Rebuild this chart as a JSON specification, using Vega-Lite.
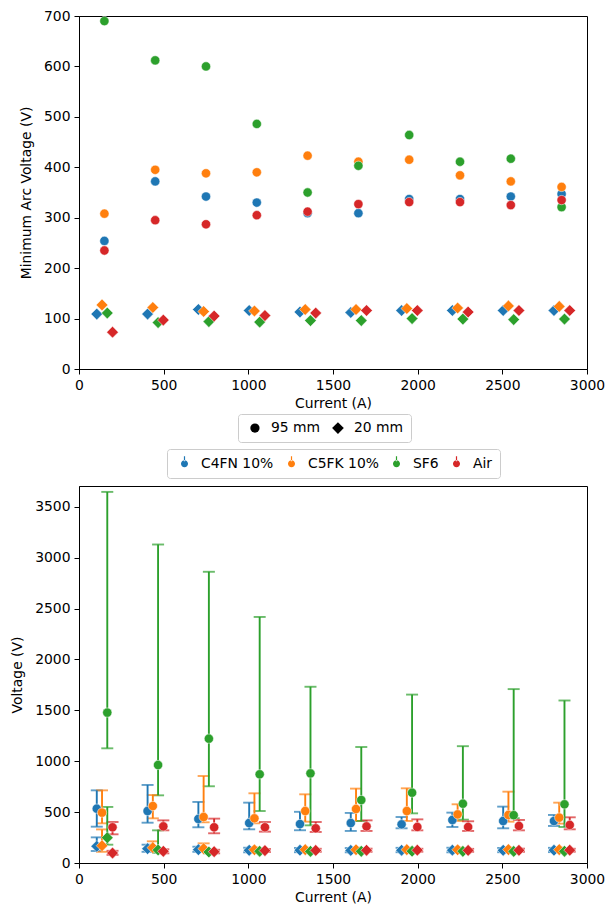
{
  "$schema": "https://vega.github.io/schema/vega-lite/v6.json",
  "padding": {"left": 10, "top": 8, "right": 0, "bottom": 0},
  "spacing": 6,
  "config": {
    "font": "DejaVu Sans",
    "view": {"stroke": "black", "strokeWidth": 1},
    "axis": {
      "grid": false, "domainColor": "black", "domainWidth": 1, "tickColor": "black", "tickWidth": 1, "tickSize": 5,
      "labelFontSize": 13.9, "labelColor": "black", "labelPadding": 4, "labelFlush": false, "labelOverlap": false, "format": "d",
      "titleFontSize": 13.9, "titleColor": "black", "titleFontWeight": "normal"
    },
    "axisX": {"titlePadding": 5},
    "axisY": {"titlePadding": 10},
    "legend": {
      "labelFont": "DejaVu Sans", "labelFontSize": 13.9, "labelColor": "black",
      "strokeColor": "#cccccc", "fillColor": "white", "cornerRadius": 3, "padding": 7,
      "symbolOffset": 3, "labelOffset": 9, "columnPadding": 7
    }
  },
  "resolve": {"legend": {"color": "independent", "shape": "independent", "size": "independent"}},
  "datasets": {
    "top": [
      {"g": "C4FN 10%", "d": "95 mm", "I": 150, "V": 254}, {"g": "C4FN 10%", "d": "95 mm", "I": 450, "V": 372}, {"g": "C4FN 10%", "d": "95 mm", "I": 750, "V": 342}, {"g": "C4FN 10%", "d": "95 mm", "I": 1050, "V": 330}, {"g": "C4FN 10%", "d": "95 mm", "I": 1350, "V": 309}, {"g": "C4FN 10%", "d": "95 mm", "I": 1650, "V": 309}, {"g": "C4FN 10%", "d": "95 mm", "I": 1950, "V": 337}, {"g": "C4FN 10%", "d": "95 mm", "I": 2250, "V": 337}, {"g": "C4FN 10%", "d": "95 mm", "I": 2550, "V": 342}, {"g": "C4FN 10%", "d": "95 mm", "I": 2850, "V": 347},
      {"g": "C5FK 10%", "d": "95 mm", "I": 150, "V": 308}, {"g": "C5FK 10%", "d": "95 mm", "I": 450, "V": 395}, {"g": "C5FK 10%", "d": "95 mm", "I": 750, "V": 388}, {"g": "C5FK 10%", "d": "95 mm", "I": 1050, "V": 390}, {"g": "C5FK 10%", "d": "95 mm", "I": 1350, "V": 423}, {"g": "C5FK 10%", "d": "95 mm", "I": 1650, "V": 411}, {"g": "C5FK 10%", "d": "95 mm", "I": 1950, "V": 415}, {"g": "C5FK 10%", "d": "95 mm", "I": 2250, "V": 384}, {"g": "C5FK 10%", "d": "95 mm", "I": 2550, "V": 372}, {"g": "C5FK 10%", "d": "95 mm", "I": 2850, "V": 361},
      {"g": "SF6", "d": "95 mm", "I": 150, "V": 690}, {"g": "SF6", "d": "95 mm", "I": 450, "V": 612}, {"g": "SF6", "d": "95 mm", "I": 750, "V": 600}, {"g": "SF6", "d": "95 mm", "I": 1050, "V": 486}, {"g": "SF6", "d": "95 mm", "I": 1350, "V": 350}, {"g": "SF6", "d": "95 mm", "I": 1650, "V": 403}, {"g": "SF6", "d": "95 mm", "I": 1950, "V": 464}, {"g": "SF6", "d": "95 mm", "I": 2250, "V": 411}, {"g": "SF6", "d": "95 mm", "I": 2550, "V": 417}, {"g": "SF6", "d": "95 mm", "I": 2850, "V": 321},
      {"g": "Air", "d": "95 mm", "I": 150, "V": 235}, {"g": "Air", "d": "95 mm", "I": 450, "V": 295}, {"g": "Air", "d": "95 mm", "I": 750, "V": 287}, {"g": "Air", "d": "95 mm", "I": 1050, "V": 305}, {"g": "Air", "d": "95 mm", "I": 1350, "V": 312}, {"g": "Air", "d": "95 mm", "I": 1650, "V": 327}, {"g": "Air", "d": "95 mm", "I": 1950, "V": 331}, {"g": "Air", "d": "95 mm", "I": 2250, "V": 331}, {"g": "Air", "d": "95 mm", "I": 2550, "V": 325}, {"g": "Air", "d": "95 mm", "I": 2850, "V": 335},
      {"g": "C4FN 10%", "d": "20 mm", "I": 105, "V": 109}, {"g": "C4FN 10%", "d": "20 mm", "I": 405, "V": 109}, {"g": "C4FN 10%", "d": "20 mm", "I": 705, "V": 118}, {"g": "C4FN 10%", "d": "20 mm", "I": 1005, "V": 116}, {"g": "C4FN 10%", "d": "20 mm", "I": 1305, "V": 113}, {"g": "C4FN 10%", "d": "20 mm", "I": 1605, "V": 112}, {"g": "C4FN 10%", "d": "20 mm", "I": 1905, "V": 116}, {"g": "C4FN 10%", "d": "20 mm", "I": 2205, "V": 116}, {"g": "C4FN 10%", "d": "20 mm", "I": 2505, "V": 116}, {"g": "C4FN 10%", "d": "20 mm", "I": 2805, "V": 116},
      {"g": "C5FK 10%", "d": "20 mm", "I": 136, "V": 127}, {"g": "C5FK 10%", "d": "20 mm", "I": 436, "V": 122}, {"g": "C5FK 10%", "d": "20 mm", "I": 736, "V": 114}, {"g": "C5FK 10%", "d": "20 mm", "I": 1036, "V": 115}, {"g": "C5FK 10%", "d": "20 mm", "I": 1336, "V": 118}, {"g": "C5FK 10%", "d": "20 mm", "I": 1636, "V": 118}, {"g": "C5FK 10%", "d": "20 mm", "I": 1936, "V": 120}, {"g": "C5FK 10%", "d": "20 mm", "I": 2236, "V": 121}, {"g": "C5FK 10%", "d": "20 mm", "I": 2536, "V": 125}, {"g": "C5FK 10%", "d": "20 mm", "I": 2836, "V": 124},
      {"g": "SF6", "d": "20 mm", "I": 167, "V": 111}, {"g": "SF6", "d": "20 mm", "I": 467, "V": 92}, {"g": "SF6", "d": "20 mm", "I": 767, "V": 94}, {"g": "SF6", "d": "20 mm", "I": 1067, "V": 93}, {"g": "SF6", "d": "20 mm", "I": 1367, "V": 96}, {"g": "SF6", "d": "20 mm", "I": 1667, "V": 96}, {"g": "SF6", "d": "20 mm", "I": 1967, "V": 100}, {"g": "SF6", "d": "20 mm", "I": 2267, "V": 99}, {"g": "SF6", "d": "20 mm", "I": 2567, "V": 98}, {"g": "SF6", "d": "20 mm", "I": 2867, "V": 99},
      {"g": "Air", "d": "20 mm", "I": 198, "V": 73}, {"g": "Air", "d": "20 mm", "I": 498, "V": 97}, {"g": "Air", "d": "20 mm", "I": 798, "V": 105}, {"g": "Air", "d": "20 mm", "I": 1098, "V": 106}, {"g": "Air", "d": "20 mm", "I": 1398, "V": 111}, {"g": "Air", "d": "20 mm", "I": 1698, "V": 116}, {"g": "Air", "d": "20 mm", "I": 1998, "V": 116}, {"g": "Air", "d": "20 mm", "I": 2298, "V": 113}, {"g": "Air", "d": "20 mm", "I": 2598, "V": 116}, {"g": "Air", "d": "20 mm", "I": 2898, "V": 116}
    ],
    "bot": [
      {"g": "C4FN 10%", "d": "95 mm", "I": 105, "V": 534, "lo": 357, "hi": 714}, {"g": "C4FN 10%", "d": "95 mm", "I": 405, "V": 511, "lo": 396, "hi": 767}, {"g": "C4FN 10%", "d": "95 mm", "I": 705, "V": 433, "lo": 351, "hi": 600}, {"g": "C4FN 10%", "d": "95 mm", "I": 1005, "V": 393, "lo": 331, "hi": 593}, {"g": "C4FN 10%", "d": "95 mm", "I": 1305, "V": 383, "lo": 322, "hi": 503}, {"g": "C4FN 10%", "d": "95 mm", "I": 1605, "V": 393, "lo": 315, "hi": 492}, {"g": "C4FN 10%", "d": "95 mm", "I": 1905, "V": 380, "lo": 341, "hi": 452}, {"g": "C4FN 10%", "d": "95 mm", "I": 2205, "V": 423, "lo": 354, "hi": 495}, {"g": "C4FN 10%", "d": "95 mm", "I": 2505, "V": 413, "lo": 341, "hi": 554}, {"g": "C4FN 10%", "d": "95 mm", "I": 2805, "V": 413, "lo": 364, "hi": 472},
      {"g": "C5FK 10%", "d": "95 mm", "I": 136, "V": 495, "lo": 390, "hi": 714}, {"g": "C5FK 10%", "d": "95 mm", "I": 436, "V": 560, "lo": 439, "hi": 668}, {"g": "C5FK 10%", "d": "95 mm", "I": 736, "V": 452, "lo": 400, "hi": 855}, {"g": "C5FK 10%", "d": "95 mm", "I": 1036, "V": 439, "lo": 390, "hi": 685}, {"g": "C5FK 10%", "d": "95 mm", "I": 1336, "V": 511, "lo": 406, "hi": 675}, {"g": "C5FK 10%", "d": "95 mm", "I": 1636, "V": 531, "lo": 413, "hi": 731}, {"g": "C5FK 10%", "d": "95 mm", "I": 1936, "V": 511, "lo": 413, "hi": 734}, {"g": "C5FK 10%", "d": "95 mm", "I": 2236, "V": 478, "lo": 413, "hi": 577}, {"g": "C5FK 10%", "d": "95 mm", "I": 2536, "V": 472, "lo": 406, "hi": 701}, {"g": "C5FK 10%", "d": "95 mm", "I": 2836, "V": 446, "lo": 387, "hi": 593},
      {"g": "SF6", "d": "95 mm", "I": 167, "V": 1478, "lo": 1127, "hi": 3647}, {"g": "SF6", "d": "95 mm", "I": 467, "V": 963, "lo": 665, "hi": 3130}, {"g": "SF6", "d": "95 mm", "I": 767, "V": 1222, "lo": 754, "hi": 2862}, {"g": "SF6", "d": "95 mm", "I": 1067, "V": 872, "lo": 511, "hi": 2418}, {"g": "SF6", "d": "95 mm", "I": 1367, "V": 881, "lo": 370, "hi": 1732}, {"g": "SF6", "d": "95 mm", "I": 1667, "V": 619, "lo": 413, "hi": 1140}, {"g": "SF6", "d": "95 mm", "I": 1967, "V": 691, "lo": 488, "hi": 1655}, {"g": "SF6", "d": "95 mm", "I": 2267, "V": 583, "lo": 426, "hi": 1148}, {"g": "SF6", "d": "95 mm", "I": 2567, "V": 470, "lo": 440, "hi": 1709}, {"g": "SF6", "d": "95 mm", "I": 2867, "V": 577, "lo": 354, "hi": 1597},
      {"g": "Air", "d": "95 mm", "I": 198, "V": 351, "lo": 282, "hi": 403}, {"g": "Air", "d": "95 mm", "I": 498, "V": 360, "lo": 321, "hi": 419}, {"g": "Air", "d": "95 mm", "I": 798, "V": 351, "lo": 292, "hi": 436}, {"g": "Air", "d": "95 mm", "I": 1098, "V": 351, "lo": 308, "hi": 403}, {"g": "Air", "d": "95 mm", "I": 1398, "V": 341, "lo": 305, "hi": 403}, {"g": "Air", "d": "95 mm", "I": 1698, "V": 360, "lo": 315, "hi": 419}, {"g": "Air", "d": "95 mm", "I": 1998, "V": 354, "lo": 321, "hi": 429}, {"g": "Air", "d": "95 mm", "I": 2298, "V": 354, "lo": 315, "hi": 410}, {"g": "Air", "d": "95 mm", "I": 2598, "V": 364, "lo": 321, "hi": 423}, {"g": "Air", "d": "95 mm", "I": 2898, "V": 374, "lo": 331, "hi": 449},
      {"g": "C4FN 10%", "d": "20 mm", "I": 105, "V": 164, "lo": 118, "hi": 252}, {"g": "C4FN 10%", "d": "20 mm", "I": 405, "V": 141, "lo": 110, "hi": 180}, {"g": "C4FN 10%", "d": "20 mm", "I": 705, "V": 131, "lo": 110, "hi": 160}, {"g": "C4FN 10%", "d": "20 mm", "I": 1005, "V": 125, "lo": 105, "hi": 150}, {"g": "C4FN 10%", "d": "20 mm", "I": 1305, "V": 126, "lo": 106, "hi": 148}, {"g": "C4FN 10%", "d": "20 mm", "I": 1605, "V": 124, "lo": 105, "hi": 147}, {"g": "C4FN 10%", "d": "20 mm", "I": 1905, "V": 125, "lo": 106, "hi": 149}, {"g": "C4FN 10%", "d": "20 mm", "I": 2205, "V": 126, "lo": 105, "hi": 150}, {"g": "C4FN 10%", "d": "20 mm", "I": 2505, "V": 125, "lo": 106, "hi": 148}, {"g": "C4FN 10%", "d": "20 mm", "I": 2805, "V": 126, "lo": 107, "hi": 149},
      {"g": "C5FK 10%", "d": "20 mm", "I": 136, "V": 170, "lo": 110, "hi": 330}, {"g": "C5FK 10%", "d": "20 mm", "I": 436, "V": 151, "lo": 120, "hi": 213}, {"g": "C5FK 10%", "d": "20 mm", "I": 736, "V": 141, "lo": 120, "hi": 193}, {"g": "C5FK 10%", "d": "20 mm", "I": 1036, "V": 130, "lo": 115, "hi": 152}, {"g": "C5FK 10%", "d": "20 mm", "I": 1336, "V": 131, "lo": 116, "hi": 150}, {"g": "C5FK 10%", "d": "20 mm", "I": 1636, "V": 130, "lo": 115, "hi": 151}, {"g": "C5FK 10%", "d": "20 mm", "I": 1936, "V": 131, "lo": 116, "hi": 150}, {"g": "C5FK 10%", "d": "20 mm", "I": 2236, "V": 130, "lo": 115, "hi": 152}, {"g": "C5FK 10%", "d": "20 mm", "I": 2536, "V": 132, "lo": 116, "hi": 150}, {"g": "C5FK 10%", "d": "20 mm", "I": 2836, "V": 131, "lo": 115, "hi": 151},
      {"g": "SF6", "d": "20 mm", "I": 167, "V": 249, "lo": 180, "hi": 551}, {"g": "SF6", "d": "20 mm", "I": 467, "V": 128, "lo": 100, "hi": 321}, {"g": "SF6", "d": "20 mm", "I": 767, "V": 108, "lo": 95, "hi": 125}, {"g": "SF6", "d": "20 mm", "I": 1067, "V": 115, "lo": 100, "hi": 130}, {"g": "SF6", "d": "20 mm", "I": 1367, "V": 114, "lo": 100, "hi": 128}, {"g": "SF6", "d": "20 mm", "I": 1667, "V": 115, "lo": 101, "hi": 130}, {"g": "SF6", "d": "20 mm", "I": 1967, "V": 116, "lo": 100, "hi": 131}, {"g": "SF6", "d": "20 mm", "I": 2267, "V": 115, "lo": 101, "hi": 129}, {"g": "SF6", "d": "20 mm", "I": 2567, "V": 114, "lo": 100, "hi": 130}, {"g": "SF6", "d": "20 mm", "I": 2867, "V": 115, "lo": 101, "hi": 130},
      {"g": "Air", "d": "20 mm", "I": 198, "V": 98, "lo": 80, "hi": 120}, {"g": "Air", "d": "20 mm", "I": 498, "V": 115, "lo": 95, "hi": 135}, {"g": "Air", "d": "20 mm", "I": 798, "V": 111, "lo": 95, "hi": 130}, {"g": "Air", "d": "20 mm", "I": 1098, "V": 122, "lo": 108, "hi": 138}, {"g": "Air", "d": "20 mm", "I": 1398, "V": 124, "lo": 110, "hi": 140}, {"g": "Air", "d": "20 mm", "I": 1698, "V": 125, "lo": 110, "hi": 141}, {"g": "Air", "d": "20 mm", "I": 1998, "V": 126, "lo": 111, "hi": 140}, {"g": "Air", "d": "20 mm", "I": 2298, "V": 124, "lo": 110, "hi": 139}, {"g": "Air", "d": "20 mm", "I": 2598, "V": 125, "lo": 110, "hi": 141}, {"g": "Air", "d": "20 mm", "I": 2898, "V": 126, "lo": 111, "hi": 140}
    ]
  },
  "vconcat": [
    {
      "width": 508,
      "height": 353,
      "data": {"name": "top"},
      "mark": {"type": "point", "filled": true, "opacity": 1, "stroke": "white", "strokeWidth": 0.5},
      "encoding": {
        "x": {"field": "I", "type": "quantitative", "scale": {"domain": [0, 3000], "nice": false, "zero": false}, "axis": {"title": "Current (A)", "values": [0, 500, 1000, 1500, 2000, 2500, 3000]}},
        "y": {"field": "V", "type": "quantitative", "scale": {"domain": [0, 700], "nice": false}, "axis": {"title": "Minimum Arc Voltage (V)", "values": [0, 100, 200, 300, 400, 500, 600, 700]}},
        "color": {"field": "g", "type": "nominal", "scale": {"domain": ["C4FN 10%", "C5FK 10%", "SF6", "Air"], "range": ["#1f77b4", "#ff7f0e", "#2ca02c", "#d62728"]},
          "legend": {"title": null, "orient": "none", "legendX": 88, "legendY": 433, "direction": "horizontal", "columns": 4,
            "symbolType": "M-0.47,0A0.47,0.47,0,1,0,0.47,0A0.47,0.47,0,1,0,-0.47,0Z M-0.08,-0.35L-0.08,-1L0.08,-1L0.08,-0.35Z", "symbolSize": 225, "symbolStrokeWidth": 0}},
        "shape": {"field": "d", "type": "nominal", "scale": {"domain": ["95 mm", "20 mm"], "range": ["circle", "diamond"]},
          "legend": {"title": null, "orient": "none", "legendX": 159, "legendY": 398, "direction": "horizontal", "columns": 2, "symbolFillColor": "black", "symbolStrokeColor": "black", "symbolStrokeWidth": 0}},
        "size": {"field": "d", "type": "ordinal", "scale": {"domain": ["95 mm", "20 mm"], "range": [86, 137]},
          "legend": {"title": null, "orient": "none", "legendX": 159, "legendY": 398, "direction": "horizontal", "columns": 2, "symbolFillColor": "black", "symbolStrokeColor": "black", "symbolStrokeWidth": 0}}
      }
    },
    {
      "width": 508,
      "height": 377,
      "data": {"name": "bot"},
      "layer": [
        {
          "mark": {"type": "errorbar", "ticks": {"size": 12, "thickness": 1.9}, "thickness": 1.9},
          "encoding": {
            "x": {"field": "I", "type": "quantitative", "scale": {"domain": [0, 3000], "nice": false, "zero": false}, "axis": {"title": "Current (A)", "values": [0, 500, 1000, 1500, 2000, 2500, 3000]}},
            "y": {"field": "lo", "type": "quantitative", "scale": {"domain": [0, 3705], "nice": false}, "axis": {"title": "Voltage (V)", "values": [0, 500, 1000, 1500, 2000, 2500, 3000, 3500]}},
            "y2": {"field": "hi"},
            "color": {"field": "g", "type": "nominal", "scale": {"domain": ["C4FN 10%", "C5FK 10%", "SF6", "Air"], "range": ["#1f77b4", "#ff7f0e", "#2ca02c", "#d62728"]}, "legend": null}
          }
        },
        {
          "mark": {"type": "point", "filled": true, "opacity": 1, "stroke": "white", "strokeWidth": 0.5},
          "encoding": {
            "x": {"field": "I", "type": "quantitative", "scale": {"domain": [0, 3000], "nice": false, "zero": false}, "axis": {"title": "Current (A)", "values": [0, 500, 1000, 1500, 2000, 2500, 3000]}},
            "y": {"field": "V", "type": "quantitative", "scale": {"domain": [0, 3705], "nice": false}, "axis": {"title": "Voltage (V)", "values": [0, 500, 1000, 1500, 2000, 2500, 3000, 3500]}},
            "color": {"field": "g", "type": "nominal", "scale": {"domain": ["C4FN 10%", "C5FK 10%", "SF6", "Air"], "range": ["#1f77b4", "#ff7f0e", "#2ca02c", "#d62728"]}, "legend": null},
            "shape": {"field": "d", "type": "nominal", "scale": {"domain": ["95 mm", "20 mm"], "range": ["circle", "diamond"]}, "legend": null},
            "size": {"field": "d", "type": "ordinal", "scale": {"domain": ["95 mm", "20 mm"], "range": [100, 150]}, "legend": null}
          }
        }
      ]
    }
  ]
}
